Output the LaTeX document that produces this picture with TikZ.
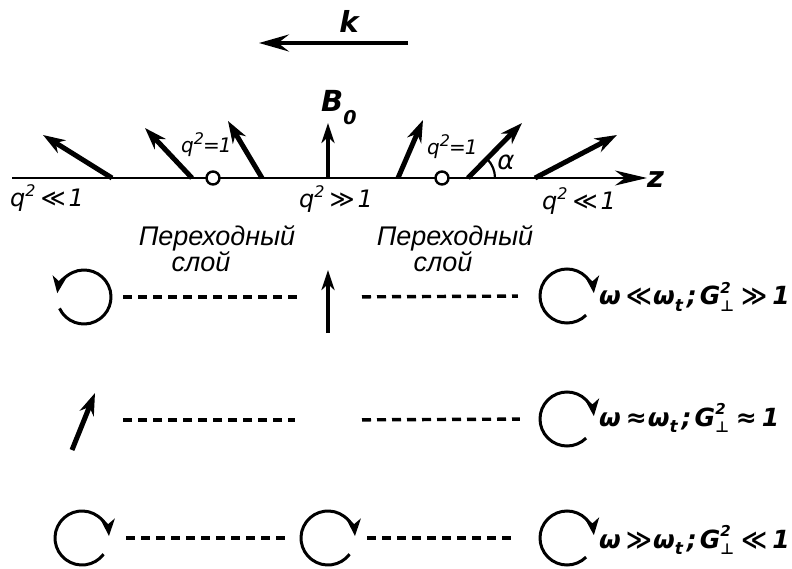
\documentclass[tikz,border=0pt]{standalone}
\usepackage{fontspec}
\setmainfont{Liberation Sans}
\newfontfamily\symf{DejaVu Sans}
\usetikzlibrary{arrows.meta}
\newcommand\gsub[2]{\makebox[0pt][l]{\raisebox{0.85ex}{\fontsize{15}{15}\selectfont #1}}\raisebox{-0.45ex}{\fontsize{15}{15}\selectfont #2}}
\newcommand\supq[1]{\raisebox{0.8ex}{\fontsize{16}{16}\selectfont #1}}
\newcommand\subt[1]{\raisebox{-0.45ex}{\fontsize{17}{17}\selectfont #1}}
\begin{document}
\begin{tikzpicture}[x=1pt,y=-1pt,
  vec/.style={line width=5pt,-{Stealth[length=22pt,width=15pt,inset=7pt]}},
  thinvec/.style={line width=3.6pt,-{Stealth[length=20pt,width=13pt,inset=6pt]}},
  axis/.style={line width=2.8pt,-{Stealth[length=32pt,width=15pt,inset=10pt]}},
  circarr/.style={line width=3pt,-{Stealth[length=17pt,width=14pt,inset=5pt]}},
  dsh/.style={line width=3.4pt,dash pattern=on 9pt off 6pt},
  ring/.style={circle,minimum size=54pt,inner sep=0,draw=none},
  pt/.style={circle,minimum size=13pt,inner sep=0,draw,line width=2.4pt,fill=white},
  ital/.style={inner sep=0,font=\symf\itshape\fontsize{24}{26}\selectfont},
  smital/.style={inner sep=0,font=\symf\itshape\fontsize{20}{22}\selectfont},
  bital/.style={inner sep=0,font=\symf\bfseries\itshape\fontsize{29}{31}\selectfont},
  rowlab/.style={inner sep=0,anchor=base west,font=\symf\bfseries\itshape\fontsize{25}{28}\selectfont},
  ru/.style={inner sep=0,anchor=north,align=center,font=\itshape\fontsize{27}{24}\selectfont},
]
\useasboundingbox (0,0) rectangle (792,569);
% k arrow
\coordinate (k0) at (408,43);
\coordinate (k1) at (259,43);
\draw[line width=3.6pt,-{Stealth[length=30pt,width=17pt,inset=11pt]}] (k0) -- (k1);
\node[bital,anchor=base] (klab) at (349,33) {k};
% axis
\coordinate (z0) at (12,178);
\coordinate (z1) at (647,178);
\draw[axis] (z0) -- (z1);
\node[bital,anchor=base west] (zlab) at (647,188) {z};
% vectors
\coordinate (v1a) at (112,178); \coordinate (v1b) at (43,135);
\coordinate (v2a) at (192,178); \coordinate (v2b) at (145,128);
\coordinate (v3a) at (262,178); \coordinate (v3b) at (228,121);
\coordinate (v4a) at (328,178); \coordinate (v4b) at (328,123);
\coordinate (v5a) at (398,178); \coordinate (v5b) at (423,120);
\coordinate (v6a) at (468,178); \coordinate (v6b) at (522,123);
\coordinate (v7a) at (535,178); \coordinate (v7b) at (617,135);
\draw[vec] (v1a) -- (v1b);
\draw[vec] (v2a) -- (v2b);
\draw[vec] (v3a) -- (v3b);
\draw[thinvec] (v4a) -- (v4b);
\draw[vec] (v5a) -- (v5b);
\draw[vec] (v6a) -- (v6b);
\draw[vec] (v7a) -- (v7b);
\draw[line width=2.2pt] (v6a) ++(0:27) arc[start angle=0,end angle=-45,radius=27];
\node[inner sep=0,anchor=base,font=\symf\itshape\fontsize{26}{28}\selectfont] (alab) at (506,170) {α};
\node[bital,anchor=base west] (blab) at (321,112) {B\raisebox{-13pt}{\fontsize{19}{19}\selectfont 0}};
% transition points
\node[pt] (p1) at (213,178) {};
\node[pt] (p2) at (442,178) {};
\node[smital,anchor=base west] (ql1) at (181,153) {q\supq{2}\kern-1pt=\kern-1pt1};
\node[smital,anchor=base west] (ql2) at (427,155) {q\supq{2}\kern-1pt=\kern-1pt1};
% q labels under axis
\node[ital,anchor=base west] (qa) at (10,207) {q\supq{2}\kern5pt≪\kern3pt1};
\node[ital,anchor=base west] (qb) at (299,208) {q\supq{2}\kern5pt≫\kern3pt1};
\node[ital,anchor=base west] (qc) at (542,210) {q\supq{2}\kern5pt≪\kern3pt1};
% transition layer labels
\node[ru] (tl) at (217,225) {Переходный\\\hspace*{-32pt}слой};
\node[ru] (tr) at (455,225) {Переходный\\\hspace*{-24pt}слой};
% row 1
\node[ring] (L1) at (84,297) {};
\coordinate (M1) at (328,297);
\node[ring] (R1) at (567,296) {};
\draw[circarr] (L1.center) ++(155:27) arc[start angle=155,end angle=-172,radius=27];
\coordinate (m1a) at (328,333); \coordinate (m1b) at (328,270);
\draw[thinvec] (m1a) -- (m1b);
\draw[circarr] (R1.center) ++(45:27) arc[start angle=45,end angle=354,radius=27];
\draw[dsh,shorten <=12pt,shorten >=26pt] (L1.east) -- (M1);
\draw[dsh,shorten <=34pt,shorten >=22pt] (M1) -- (R1.west);
\node[rowlab] (lab1) at (599,305) {ω\kern5pt≪\kern1ptω\subt{t}\kern4pt;\kern3ptG\gsub{2}{⊥}\kern7pt≫\kern5pt1};
% row 2
\coordinate (A2) at (83,420);
\coordinate (a2a) at (72,450); \coordinate (a2b) at (95,393);
\draw[vec] (a2a) -- (a2b);
\coordinate (G2) at (328,420);
\node[ring] (R2) at (567,419) {};
\draw[circarr] (R2.center) ++(45:27) arc[start angle=45,end angle=354,radius=27];
\draw[dsh,shorten <=40pt,shorten >=33pt] (A2) -- (G2);
\draw[dsh,shorten <=34pt,shorten >=20pt] (G2) -- (R2.west);
\node[rowlab] (lab2) at (599,426) {ω\kern5pt≈\kern1ptω\subt{t}\kern4pt;\kern3ptG\gsub{2}{⊥}\kern7pt≈\kern5pt1};
% row 3
\node[ring] (L3) at (82,538) {};
\node[ring] (M3) at (328,538) {};
\node[ring] (R3) at (567,538) {};
\draw[circarr] (L3.center) ++(37:27) arc[start angle=37,end angle=356,radius=27];
\draw[circarr] (M3.center) ++(37:27) arc[start angle=37,end angle=356,radius=27];
\draw[circarr] (R3.center) ++(45:27) arc[start angle=45,end angle=354,radius=27];
\draw[dsh,shorten <=17pt,shorten >=11pt] (L3.east) -- (M3.west);
\draw[dsh,shorten <=12pt,shorten >=25pt] (M3.east) -- (R3.west);
\node[rowlab] (lab3) at (599,548) {ω\kern5pt≫\kern1ptω\subt{t}\kern4pt;\kern3ptG\gsub{2}{⊥}\kern7pt≪\kern5pt1};
\end{tikzpicture}
\end{document}
